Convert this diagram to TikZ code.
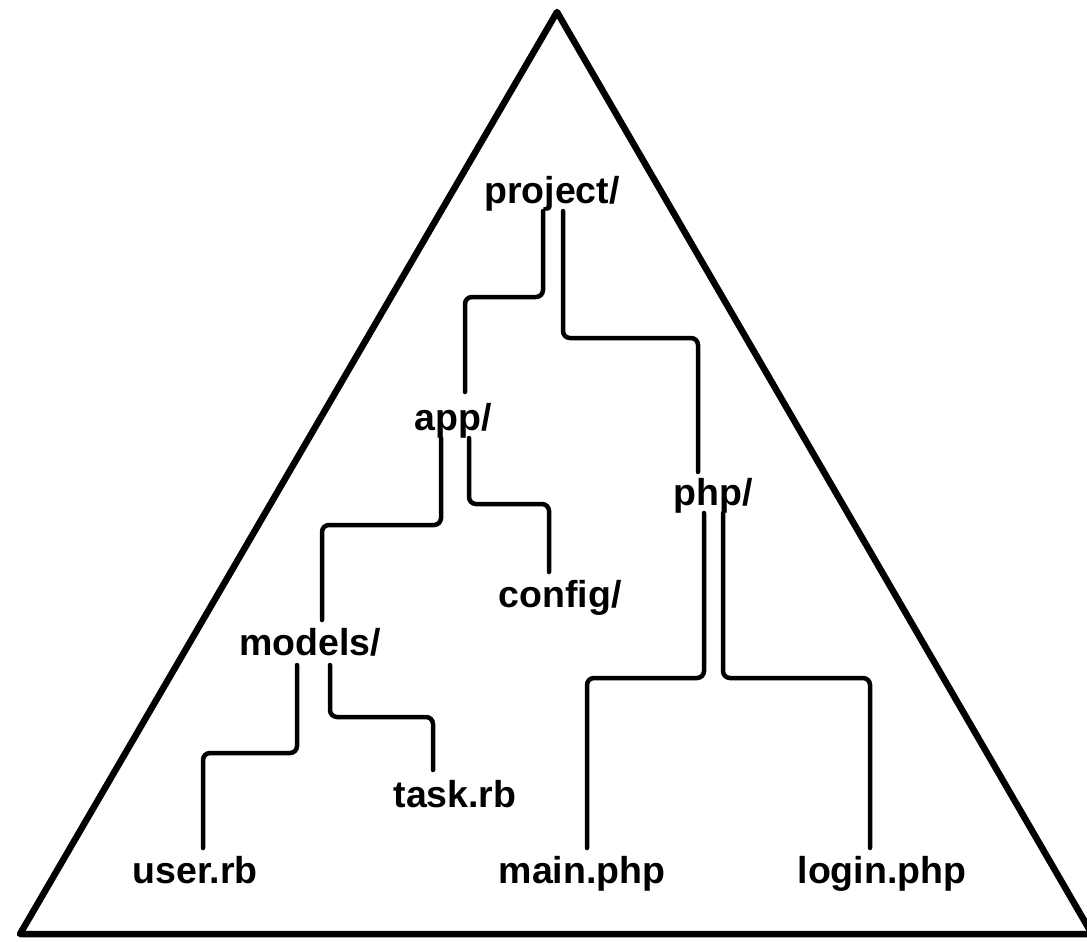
\documentclass[tikz,border=0pt]{standalone}
\usepackage{fontspec}
\setmainfont{Liberation Sans}
\usepackage{tikz}

\begin{document}
\begin{tikzpicture}[x=1pt,y=-1pt,
    entry/.style={anchor=base,inner sep=0pt,font=\bfseries\fontsize{37.5}{40}\selectfont},
    branch/.style={line width=4.5pt,line cap=round,rounded corners=7pt}]
  \useasboundingbox (0,0) rectangle (1087,942);
    \draw[line width=6.5pt,line join=round] (557,12) -- (1092,934) -- (20,934) -- cycle;
    \node[entry] (project) at (552,203) {project/};
    \node[entry] (app) at (453,430) {app/};
    \node[entry] (php) at (713,505) {php/};
    \node[entry] (config) at (560,607) {config/};
    \node[entry] (models) at (310,655) {models/};
    \node[entry] (task) at (455,807) {task.rb};
    \node[entry] (user) at (195,883) {user.rb};
    \node[entry] (main) at (582,883) {main.php};
    \node[entry] (login) at (882,883) {login.php};
    \draw[branch] ([shift={(-9,8)}]project.base) -- ++(0,86) -| ([shift={(12,-38)}]app.base);
    \draw[branch] ([shift={(11,8)}]project.base) -- ++(0,127) -| ([shift={(-15,-33)}]php.base);
    \draw[branch] ([shift={(-12,8)}]app.base) -- ++(0,87) -| ([shift={(12,-35)}]models.base);
    \draw[branch] ([shift={(16,8)}]app.base) -- ++(0,66) -| ([shift={(-11,-35)}]config.base);
    \draw[branch] ([shift={(-9,8)}]php.base) -- ++(0,165) -| ([shift={(5,-35)}]main.base);
    \draw[branch] ([shift={(10,8)}]php.base) -- ++(0,165) -| ([shift={(-12,-35)}]login.base);
    \draw[branch] ([shift={(-13,10)}]models.base) -- ++(0,88) -| ([shift={(8,-35)}]user.base);
    \draw[branch] ([shift={(20,10)}]models.base) -- ++(0,52) -| ([shift={(-22,-37)}]task.base);
  \end{tikzpicture}
\end{document}
